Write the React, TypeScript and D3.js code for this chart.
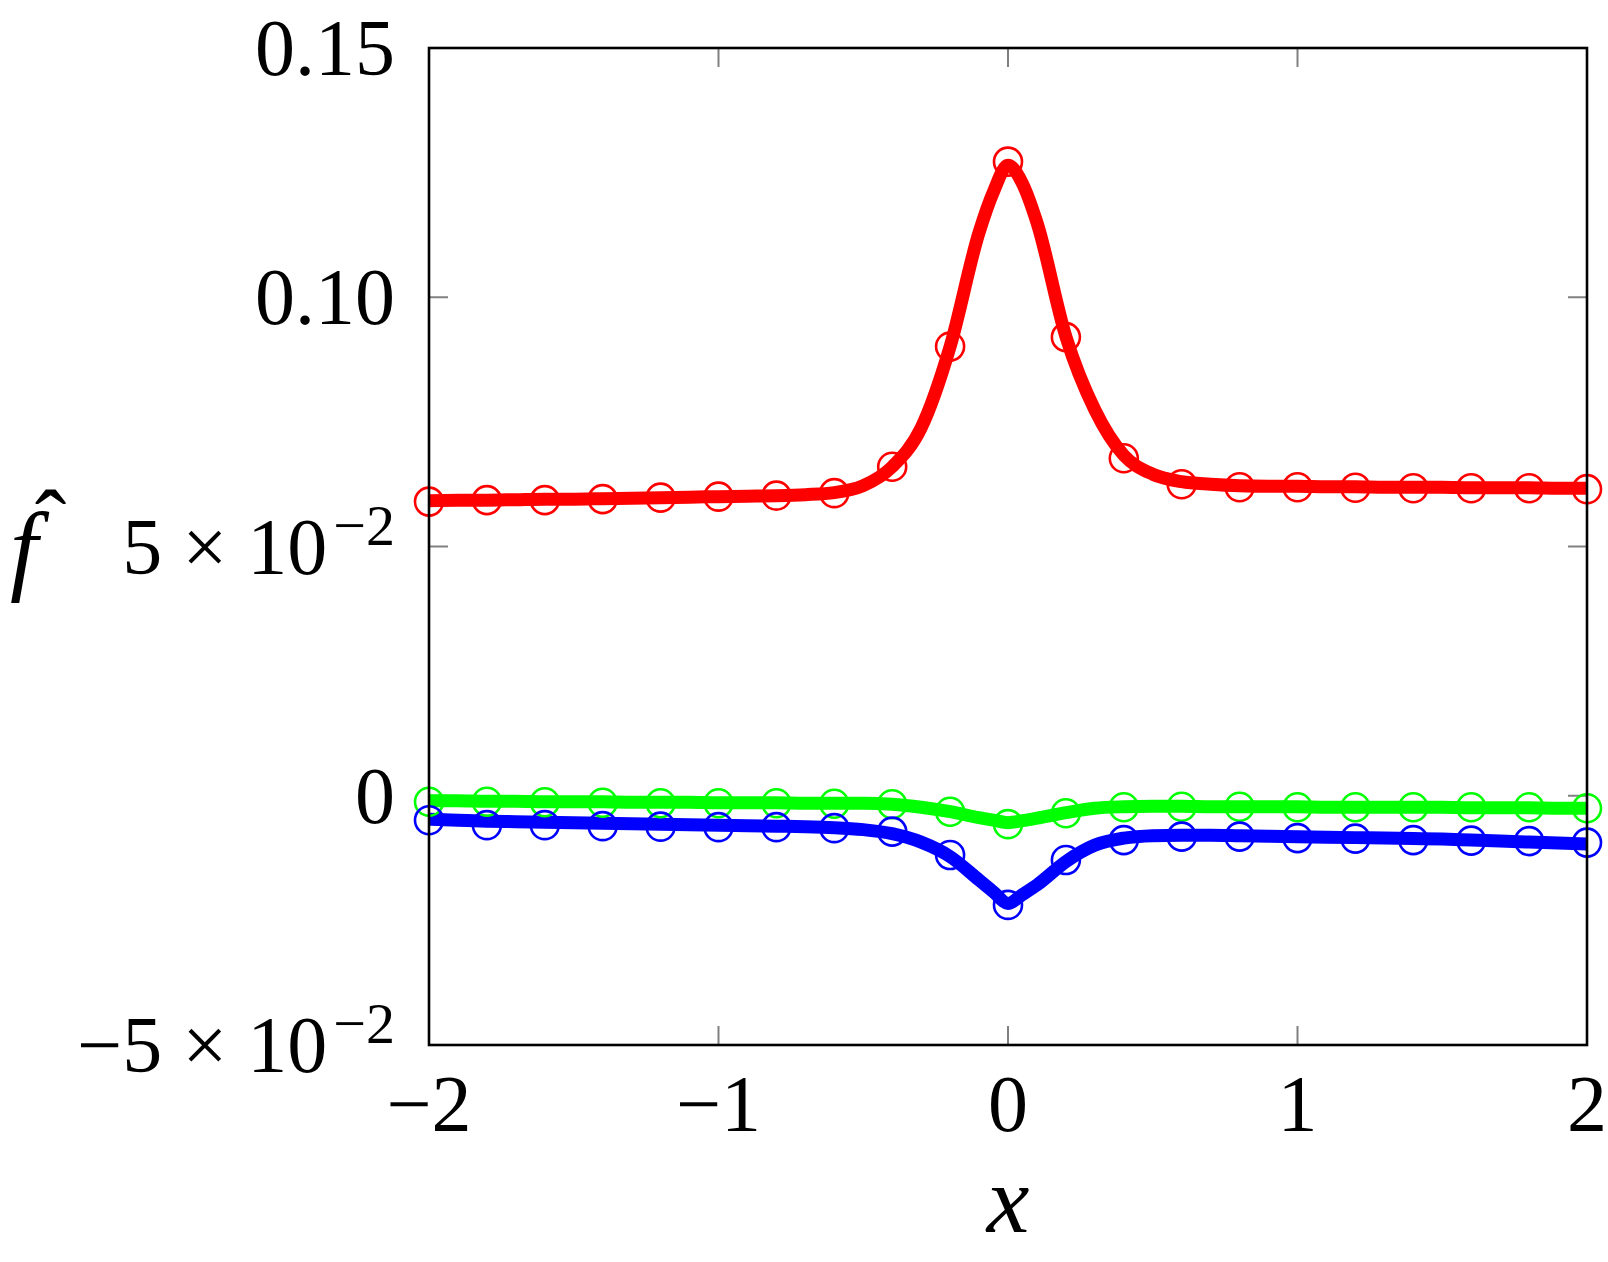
import * as d3 from 'd3';

// x grid for the markers and for the (denser) solid lines
const markerX = [-2, -1.8, -1.6, -1.4, -1.2, -1, -0.8, -0.6, -0.4, -0.2, 0, 0.2, 0.4, 0.6, 0.8, 1, 1.2, 1.4, 1.6, 1.8, 2];
const lineX = [
  -2, -1.9, -1.8, -1.7, -1.6, -1.5, -1.4, -1.3, -1.2, -1.1, -1, -0.9, -0.8, -0.7, -0.6, -0.5, -0.4, -0.3, -0.2, -0.1,
  -0.05, 0, 0.05, 0.1, 0.2, 0.3, 0.4, 0.5, 0.6, 0.7, 0.8, 0.9, 1, 1.1, 1.2, 1.3, 1.4, 1.5, 1.6, 1.7, 1.8, 1.9, 2,
];

const redLine = [
  0.0592, 0.0593, 0.0593, 0.0594, 0.0595, 0.0595, 0.0596, 0.0597, 0.0598, 0.0599, 0.06, 0.0601, 0.0602, 0.0604, 0.0608,
  0.0622, 0.066, 0.0738, 0.0901, 0.113, 0.1212, 0.1265, 0.1228, 0.115, 0.0921, 0.0774, 0.0683, 0.0645, 0.063, 0.0625,
  0.0622, 0.0621, 0.0621, 0.062, 0.062, 0.0619, 0.0619, 0.0619, 0.0618, 0.0618, 0.0618, 0.0617, 0.0617,
];
const greenLine = [
  -0.001, -0.001, -0.0011, -0.0011, -0.0012, -0.0012, -0.0012, -0.0013, -0.0013, -0.0013, -0.0014, -0.0014, -0.0014,
  -0.0015, -0.0015, -0.0015, -0.0017, -0.0023, -0.0032, -0.0044, -0.0049, -0.0054, -0.005, -0.0045, -0.0034, -0.0025,
  -0.0022, -0.0021, -0.0021, -0.0022, -0.0022, -0.0022, -0.0022, -0.0023, -0.0023, -0.0023, -0.0023, -0.0023, -0.0024,
  -0.0024, -0.0024, -0.0025, -0.0025,
];
const blueLine = [
  -0.0047, -0.0049, -0.0051, -0.0052, -0.0053, -0.0054, -0.0055, -0.0056, -0.0057, -0.0058, -0.0059, -0.006, -0.0061,
  -0.0062, -0.0064, -0.0068, -0.0076, -0.0093, -0.0122, -0.0169, -0.0193, -0.0216, -0.0198, -0.0179, -0.0132, -0.0099,
  -0.0085, -0.008, -0.0079, -0.0079, -0.008, -0.0081, -0.0082, -0.0083, -0.0084, -0.0085, -0.0086, -0.0087, -0.0089,
  -0.0091, -0.0093, -0.0095, -0.0097,
];

const redMarkers = [
  0.059, 0.0593, 0.0593, 0.0595, 0.0598, 0.06, 0.0602, 0.0607, 0.066, 0.0901, 0.1272, 0.092, 0.0677, 0.0625, 0.0619,
  0.0619, 0.0618, 0.0617, 0.0617, 0.0617, 0.0615,
];
const greenMarkers = [
  -0.0012, -0.0012, -0.0013, -0.0014, -0.0015, -0.0015, -0.0015, -0.0016, -0.0017, -0.0032, -0.0057, -0.0035, -0.0023,
  -0.0022, -0.0022, -0.0023, -0.0023, -0.0023, -0.0023, -0.0023, -0.0025,
];
const blueMarkers = [
  -0.0049, -0.0059, -0.0059, -0.0061, -0.0062, -0.0063, -0.0063, -0.0065, -0.0072, -0.0119, -0.0219, -0.0129, -0.0089,
  -0.0082, -0.0082, -0.0085, -0.0086, -0.0089, -0.009, -0.0091, -0.0094,
];

const xTicks = [-2, -1, 0, 1, 2];
const xTickLabels = ['\u22122', '\u22121', '0', '1', '2'];
const yTicks = [0.15, 0.1, 0.05, 0, -0.05];
const yTickBase = ['0.15', '0.10', '5 \u00d7 10', '0', '\u22125 \u00d7 10'];
const yTickExp = ['', '', '\u22122', '', '\u22122'];

const W = 1608;
const H = 1262;
const left = 429;
const right = 1587;
const top = 48;
const bottom = 1045;
const font = '"Liberation Serif", "Times New Roman", serif';

export default function App() {
  const x = d3.scaleLinear().domain([-2, 2]).range([left, right]);
  const y = d3.scaleLinear().domain([-0.05, 0.15]).range([bottom, top]);

  const line = d3
    .line<number>()
    .x((_, i) => x(lineX[i]))
    .y((d) => y(d))
    .curve(d3.curveMonotoneX);

  const series = [
    { color: '#ff0000', line: redLine, markers: redMarkers },
    { color: '#00ff00', line: greenLine, markers: greenMarkers },
    { color: '#0000ff', line: blueLine, markers: blueMarkers },
  ];

  const tickLen = 19;
  const tickColor = '#808080';

  return (
    <svg
      width={W}
      height={H}
      style={{ position: 'absolute', left: 0, top: 0, background: '#fff' }}
      fontFamily={font}
    >
      {/* ticks, inward on all four sides */}
      <g stroke={tickColor} strokeWidth={2}>
        {xTicks.map((t) => (
          <g key={'x' + t}>
            <line x1={x(t)} x2={x(t)} y1={bottom} y2={bottom - tickLen} />
            <line x1={x(t)} x2={x(t)} y1={top} y2={top + tickLen} />
          </g>
        ))}
        {yTicks.map((t) => (
          <g key={'y' + t}>
            <line x1={left} x2={left + tickLen} y1={y(t)} y2={y(t)} />
            <line x1={right} x2={right - tickLen} y1={y(t)} y2={y(t)} />
          </g>
        ))}
      </g>

      {series.map((s) => (
        <path
          key={'l' + s.color}
          d={line(s.line) || ''}
          fill="none"
          stroke={s.color}
          strokeWidth={13}
          strokeLinecap="butt"
          strokeLinejoin="miter"
        />
      ))}
      {series.map((s) =>
        s.markers.map((v, i) => (
          <circle
            key={s.color + i}
            cx={x(markerX[i])}
            cy={y(v)}
            r={14}
            fill="none"
            stroke={s.color}
            strokeWidth={2.6}
          />
        ))
      )}

      <rect
        x={left}
        y={top}
        width={right - left}
        height={bottom - top}
        fill="none"
        stroke="#000"
        strokeWidth={2.6}
      />

      {xTicks.map((t, i) => (
        <text key={'xt' + t} x={x(t)} y={1131} fontSize={80} textAnchor="middle" fill="#000">
          {xTickLabels[i]}
        </text>
      ))}
      {yTicks.map((t, i) => (
        <text key={'yt' + t} x={395} y={y(t) + 27} fontSize={80} textAnchor="end" fill="#000">
          {yTickBase[i]}
          {yTickExp[i] && (
            <tspan fontSize={58} dy={-29} dx={6}>
              {yTickExp[i]}
            </tspan>
          )}
        </text>
      ))}

      <text x={1008} y={1232} fontSize={96} fontStyle="italic" textAnchor="middle" fill="#000">
        x
      </text>
      {/* y label: f with a hat */}
      <text x={10} y={582} fontSize={100} fontStyle="italic" fill="#000">
        f
        <tspan fontStyle="normal" fontSize={95} dx={-3} dy={-26}>
          {'\u02c6'}
        </tspan>
      </text>
    </svg>
  );
}
